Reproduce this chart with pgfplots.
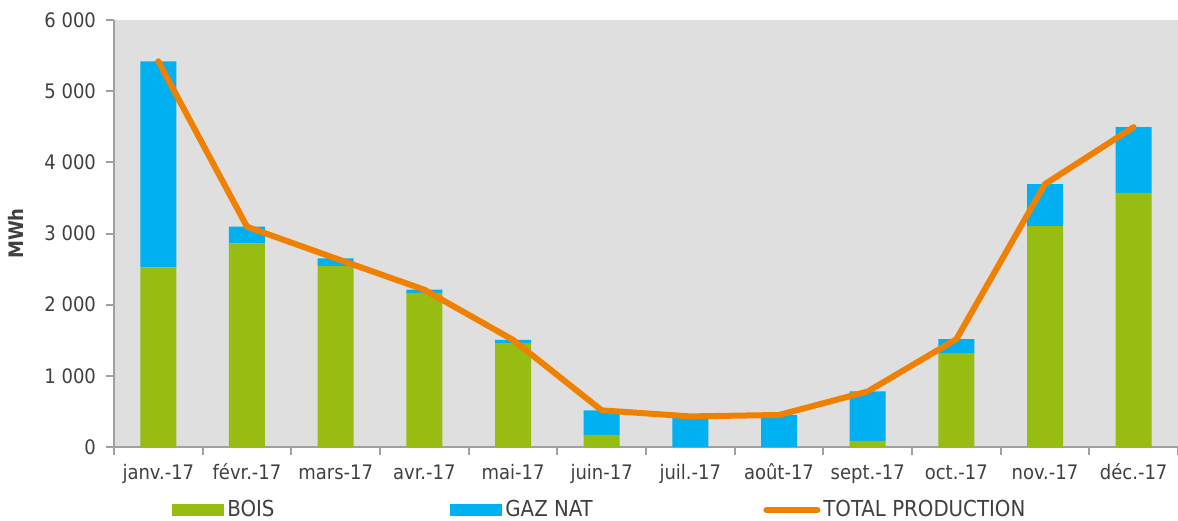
\documentclass[border=0pt]{standalone}
\usepackage{fontspec}
\setmainfont{DejaVu Sans Condensed}
\usepackage{pgfplots}
\pgfplotsset{compat=1.18}
\definecolor{bois}{RGB}{151,189,18}
\definecolor{gaz}{RGB}{0,176,240}
\definecolor{tot}{RGB}{240,128,0}
\definecolor{bg}{RGB}{223,223,223}
\definecolor{axg}{RGB}{160,160,160}
\definecolor{txt}{RGB}{64,64,64}
\begin{document}
\begin{tikzpicture}
\path[use as bounding box] (-57pt,-36.5pt) rectangle (532pt,223.5pt);
\begin{axis}[
  at={(0pt,0pt)}, anchor=south west,
  scale only axis, width=532pt, height=213.5pt,
  ybar stacked, bar width=18pt,
  xmin=-0.5, xmax=11.5, ymin=0, ymax=6000,
  axis background/.style={fill=bg},
  axis x line*=bottom, axis y line*=left,
  axis line style={axg, line width=1pt},
  every tick/.style={axg, line width=1pt},
  tick align=outside, major tick length=4pt,
  xtick={0,...,11}, major x tick style={draw=none},
  minor xtick={-0.5,0.5,...,11.5},
  minor tick length=4pt,
  xticklabels={janv.-17,févr.-17,mars-17,avr.-17,mai-17,juin-17,juil.-17,août-17,sept.-17,oct.-17,nov.-17,déc.-17},
  ytick={0,1000,...,6000},
  /pgf/number format/assume math mode=true,
  /pgf/number format/1000 sep={\ },
  ticklabel style={font=\fontsize{10}{12}\selectfont, text=txt},
  xticklabel style={anchor=north, text height=7.5pt, text depth=2pt, yshift=-1pt},
  yticklabel style={xshift=-1.5pt},
  ylabel={\textbf{MWh}}, ylabel style={font=\fontsize{10}{12}\selectfont, text=txt, yshift=3.5pt},
  legend columns=3,
  legend style={at={(rel axis cs:0.0545,-0.1475)}, anchor=west, draw=none, fill=none, inner sep=0pt,
    font=\fontsize{11}{13}\selectfont, text=txt, nodes={inner sep=1.5pt}},
  legend cell align=left,
]
\addplot[fill=bois, draw=none, legend image code/.code={\fill[bois] (0pt,-3pt) rectangle (26pt,3pt);}]
  coordinates {(0,2525) (1,2860) (2,2545) (3,2165) (4,1460) (5,170) (6,0) (7,0) (8,85) (9,1320) (10,3105) (11,3570)};
\addlegendentry{\makebox[110pt][l]{BOIS}}
\addplot[fill=gaz, draw=none, legend image code/.code={\fill[gaz] (0pt,-3pt) rectangle (26pt,3pt);}]
  coordinates {(0,2895) (1,235) (2,105) (3,45) (4,45) (5,345) (6,430) (7,450) (8,695) (9,195) (10,590) (11,925)};
\addlegendentry{\makebox[127.5pt][l]{GAZ NAT}}
\addlegendimage{legend image code/.code={\draw[tot, line width=3pt, line cap=round] (1.5pt,0pt) -- (27pt,0pt);}}
\addlegendentry{TOTAL PRODUCTION}
\end{axis}
\begin{axis}[
  at={(0pt,0pt)}, anchor=south west,
  scale only axis, width=532pt, height=213.5pt,
  xmin=-0.5, xmax=11.5, ymin=0, ymax=6000, hide axis,
]
\addplot[tot, line width=3pt, line cap=round, line join=round, mark=none]
  coordinates {(0,5420) (1,3095) (2,2650) (3,2210) (4,1505) (5,515) (6,430) (7,450) (8,780) (9,1515) (10,3695) (11,4495)};
\end{axis}
\end{tikzpicture}
\end{document}
